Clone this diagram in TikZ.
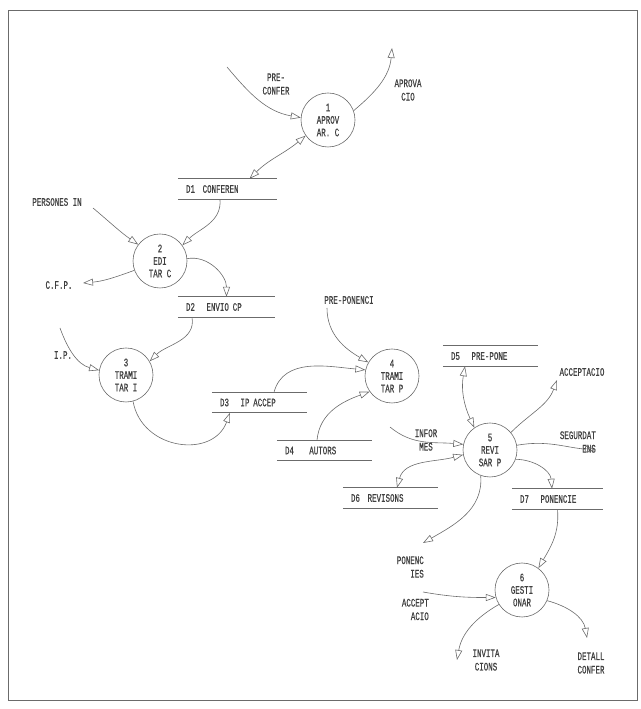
\documentclass[tikz,border=0pt]{standalone}
\usepackage{fontspec}
\newfontfamily\dfdfont[FakeStretch=0.65, FakeBold=0.6]{Liberation Mono}
\usetikzlibrary{arrows.meta}
\definecolor{inkline}{gray}{0.42}
\definecolor{inktext}{gray}{0.25}
\tikzset{
  % Processes
  process/.style={
    draw=inkline, circle, line width=0.6pt,
    minimum size=54pt, inner sep=0pt,
    align=center, text=inktext,
    font=\dfdfont\fontsize{11.5}{12.5}\selectfont
  },
  % Data stores
  storeline/.style={draw=inkline, line width=0.6pt},
  store/.style={
    rectangle, minimum height=20pt, text width=#1,
    inner xsep=8pt, inner ysep=0pt, align=left, text=inktext,
    font=\dfdfont\fontsize{11.5}{12.5}\selectfont,
    append after command={
      (\tikzlastnode.north west) edge[storeline] (\tikzlastnode.north east)
      (\tikzlastnode.south west) edge[storeline] (\tikzlastnode.south east)
    }
  },
  store/.default=79pt,
  % Sources and sinks
  extlabel/.style={
    align=center, inner sep=0pt, text=inktext,
    font=\dfdfont\fontsize{11.5}{13.5}\selectfont
  },
  % Flows
  flow/.style={
    draw=inkline, line width=0.6pt,
    -{Triangle[open, length=10pt, width=7pt]}
  },
  flowboth/.style={
    draw=inkline, line width=0.6pt,
    {Triangle[open, length=10pt, width=7pt]}-{Triangle[open, length=10pt, width=7pt]}
  },
  frameline/.style={draw=inkline, line width=0.9pt},
}

\begin{document}
\begin{tikzpicture}[x=1pt, y=1pt]

  \useasboundingbox (0,0) rectangle (640,709);
  \draw[frameline] (8,9) rectangle (637,699);

  %% ── Processos ──
  \node[process] (aprovar)   at (328,589) {1\\APROV\\AR. C};
  \node[process] (editar)    at (160,448) {2\\EDI\\TAR C};
  \node[process] (tramitarI) at (126,334) {3\\TRAMI\\TAR I};
  \node[process] (tramitarP) at (392,333) {4\\TRAMI\\TAR P};
  \node[process] (revisar)   at (490,259) {5\\REVI\\SAR P};
  \node[process] (gestionar) at (522,119) {6\\GESTI\\ONAR};

  %% ── Magatzems ──
  \node[store=83pt] (conferen) at (227.5,520)   {D1~~CONFEREN};
  \node[store=81pt] (envioCP)  at (226.5,402)   {D2~~~ENVIO CP};
  \node[store]      (ipAccep)  at (259.5,306.5) {D3~~~IP ACCEP};
  \node[store]      (autors)   at (324.5,258.5) {D4~~~~AUTORS};
  \node[store]      (prePone)  at (490.5,353)   {D5~~~PRE-PONE};
  \node[store]      (revisons) at (390.5,211)   {D6~~REVISONS};
  \node[store=75pt] (ponencie) at (557.5,210)   {D7~~~PONENCIE};

  %% ── Entrades i sortides ──
  \node[extlabel] (preConfer)  at (276,625) {PRE-\\CONFER};
  \node[extlabel] (aprovacio)  at (408,619) {APROVA\\CIO};
  \node[extlabel] (persones)   at (57,507)  {PERSONES IN};
  \node[extlabel] (cfp)        at (59,424)  {C.F.P.};
  \node[extlabel] (ip)         at (63,354)  {I.P.};
  \node[extlabel] (prePonenci) at (349,409) {PRE-PONENCI};
  \node[extlabel] (informes)   at (426,269) {INFOR\\MES};
  \node[extlabel] (acceptacio) at (582,337) {ACCEPTACIO};
  \node[extlabel, align=right, anchor=east] (segurdat)   at (596,267)   {SEGURDAT\\ENS};
  \node[extlabel, align=right, anchor=east] (ponencies)  at (424,142)   {PONENC\\IES};
  \node[extlabel, align=right, anchor=east] (acceptAcio) at (429,99.5)  {ACCEPT\\ACIO};
  \node[extlabel] (invitacions) at (486,49) {INVITA\\CIONS};
  \node[extlabel] (detall)      at (591,46) {DETALL\\CONFER};

  \coordinate (preConferIn)    at (227,642);
  \coordinate (aprovacioOut)   at (392,661);
  \coordinate (personesIn)     at (93,501);
  \coordinate (cfpOut)         at (83,426);
  \coordinate (ipIn)           at (60,381);
  \coordinate (prePonenciIn)   at (327,401);
  \coordinate (informesIn)     at (390,282);
  \coordinate (acceptacioOut)  at (557,329);
  \coordinate (segurdatOut)    at (595,259);
  \coordinate (ponenciesOut)   at (423,166);
  \coordinate (acceptAcioIn)   at (423,117);
  \coordinate (invitacionsOut) at (457,49);
  \coordinate (detallOut)      at (587,71);

  %% ── Fluxos: 1 APROVAR C ──
  \draw[flow] (preConferIn) to[out=-50, in=170] (aprovar.175);
  \draw[flow] (aprovar.20) to[out=40, in=-95] (aprovacioOut);
  \draw[flowboth] ([xshift=22pt]conferen.north) to[out=45, in=-140] (aprovar.215);

  %% ── Fluxos: 2 EDITAR C ──
  \draw[flow] ([xshift=-7.5pt]conferen.south) to[out=-85, in=45] (editar.35);
  \draw[flow] (personesIn) to[out=-40, in=145] (editar.143);
  \draw[flow] (editar.200) to[out=200, in=5] (cfpOut);
  \draw[flow] (editar.5) to[out=10, in=90] (envioCP.north);

  %% ── Fluxos: 3 TRAMITAR I ──
  \draw[flow] ([xshift=-34.5pt]envioCP.south) to[out=-80, in=45] (tramitarI.30);
  \draw[flow] (ipIn) to[out=-70, in=165] (tramitarI.170);
  \draw[flow] (tramitarI.-75) to[out=-80, in=-110, looseness=1.3] ([xshift=-29.5pt]ipAccep.south);

  %% ── Fluxos: 4 TRAMITAR P ──
  \draw[flow] ([xshift=14.5pt]ipAccep.north) to[out=75, in=175] (tramitarP.167);
  \draw[flow] (prePonenciIn) to[out=-90, in=150] (tramitarP.150);
  \draw[flow] ([xshift=-7.5pt]autors.north) to[out=85, in=200] (tramitarP.215);

  %% ── Fluxos: 5 REVISAR P ──
  \draw[flowboth] ([xshift=-25.5pt]prePone.south) to[out=-100, in=115] (revisar.125);
  \draw[flow] (informesIn) to[out=-40, in=175] (revisar.168);
  \draw[flowboth] ([xshift=6.5pt]revisons.north) to[out=75, in=195] (revisar.190);
  \draw[flow] (revisar.40) to[out=45, in=-110] (acceptacioOut);
  \draw[flow] (revisar.10) to[out=10, in=175] (segurdatOut);
  \draw[flow] (revisar.-20) to[out=0, in=95] ([xshift=-5.5pt]ponencie.north);
  \draw[flow] (revisar.250) to[out=-85, in=30] (ponenciesOut);

  %% ── Fluxos: 6 GESTIONAR ──
  \draw[flow] (ponencie.south) to[out=-85, in=60] (gestionar.53);
  \draw[flow] (acceptAcioIn) to[out=-10, in=180] (gestionar.196);
  \draw[flow] (gestionar.212) to[out=210, in=80] (invitacionsOut);
  \draw[flow] (gestionar.-23) to[out=-15, in=100] (detallOut);

\end{tikzpicture}
\end{document}
